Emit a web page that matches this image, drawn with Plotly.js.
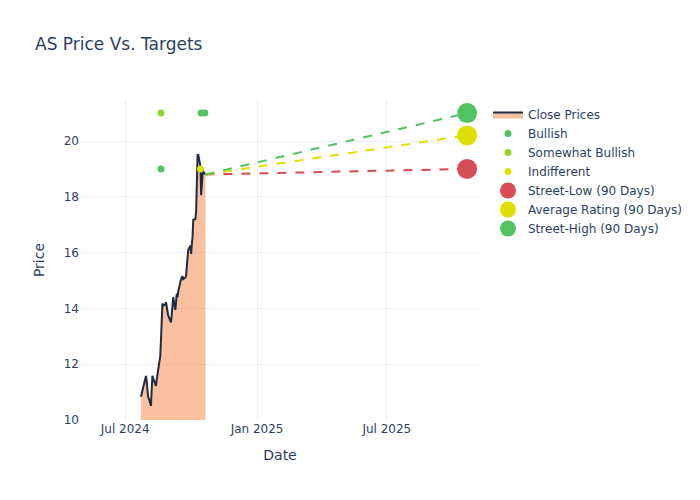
<!DOCTYPE html>
<html>
<head>
<meta charset="utf-8">
<script src="https://cdn.plot.ly/plotly-3.0.1.min.js"></script>
<style>body{margin:0;padding:0;background:#fff;}#chart{width:700px;height:500px;}</style>
</head>
<body>
<div id="chart"></div>
<script>
const closeDates = [
  "2024-07-23","2024-07-24","2024-07-25","2024-07-26",
  "2024-07-29","2024-07-30","2024-07-31","2024-08-01","2024-08-02",
  "2024-08-05","2024-08-06","2024-08-07","2024-08-08","2024-08-09",
  "2024-08-12","2024-08-13","2024-08-14","2024-08-15","2024-08-16",
  "2024-08-19","2024-08-20","2024-08-21","2024-08-22","2024-08-23",
  "2024-08-26","2024-08-27","2024-08-28","2024-08-29","2024-08-30",
  "2024-09-03","2024-09-04","2024-09-05","2024-09-06",
  "2024-09-09","2024-09-10","2024-09-11","2024-09-12","2024-09-13",
  "2024-09-16","2024-09-17","2024-09-18","2024-09-19","2024-09-20",
  "2024-09-23","2024-09-24","2024-09-25","2024-09-26","2024-09-27",
  "2024-09-30","2024-10-01","2024-10-02","2024-10-03","2024-10-04",
  "2024-10-07","2024-10-08","2024-10-09","2024-10-10","2024-10-11",
  "2024-10-14","2024-10-15","2024-10-16","2024-10-17","2024-10-18",
  "2024-10-21"
];
const closePrices = [
  10.83, 10.95, 11.05, 11.20,
  11.45, 11.58, 11.40, 11.10, 10.85,
  10.60, 10.50, 11.10, 11.58, 11.50,
  11.30, 11.22, 11.45, 11.60, 11.80,
  12.30, 12.90, 13.60, 14.17, 14.10,
  14.15, 14.22, 14.05, 13.92, 13.75,
  13.50, 13.90, 14.17, 14.40,
  13.95, 14.45, 14.53, 14.40, 14.60,
  14.95, 15.10, 15.12, 15.15, 15.05,
  15.10, 15.18, 15.50, 16.00, 16.10,
  16.25, 15.95, 16.30, 16.56, 17.18,
  17.20, 17.50, 19.00, 19.50, 19.50,
  19.10, 18.06, 18.60, 18.84, 18.90,
  18.80
];

const bullishDates = ["2024-08-20", "2024-10-15", "2024-10-20"];
const bullishPrices = [19, 21, 21];
const somewhatBullishDates = ["2024-08-20"];
const somewhatBullishPrices = [21];
const indifferentDates = ["2024-10-14"];
const indifferentPrices = [19];

const lastDate = "2024-10-21";
const lastClose = 18.8;
const targetDate = "2025-10-21";
const streetLow = 19;
const averageRating = 20.2;
const streetHigh = 21;

const RED = "#d64c54", YELLOW = "#e0e000", GREEN = "#50c460";

const traces = [
  {x: closeDates, y: closePrices, type: "scatter", mode: "lines", name: "Close Prices",
   line: {color: "#1f2a44", width: 2}, fill: "tozeroy", fillcolor: "rgba(247,130,65,0.5)"},
  {x: bullishDates, y: bullishPrices, type: "scatter", mode: "markers", name: "Bullish",
   marker: {color: GREEN, size: 7}},
  {x: somewhatBullishDates, y: somewhatBullishPrices, type: "scatter", mode: "markers", name: "Somewhat Bullish",
   marker: {color: "#96d22a", size: 7}},
  {x: indifferentDates, y: indifferentPrices, type: "scatter", mode: "markers", name: "Indifferent",
   marker: {color: YELLOW, size: 7}},
  {x: [lastDate, targetDate], y: [lastClose, streetLow], type: "scatter", mode: "lines", showlegend: false,
   line: {color: RED, width: 2, dash: "dash"}, hoverinfo: "skip"},
  {x: [lastDate, targetDate], y: [lastClose, averageRating], type: "scatter", mode: "lines", showlegend: false,
   line: {color: YELLOW, width: 2, dash: "dash"}, hoverinfo: "skip"},
  {x: [lastDate, targetDate], y: [lastClose, streetHigh], type: "scatter", mode: "lines", showlegend: false,
   line: {color: GREEN, width: 2, dash: "dash"}, hoverinfo: "skip"},
  {x: [targetDate], y: [streetLow], type: "scatter", mode: "markers", name: "Street-Low (90 Days)",
   marker: {color: RED, size: 20}},
  {x: [targetDate], y: [averageRating], type: "scatter", mode: "markers", name: "Average Rating (90 Days)",
   marker: {color: YELLOW, size: 20}},
  {x: [targetDate], y: [streetHigh], type: "scatter", mode: "markers", name: "Street-High (90 Days)",
   marker: {color: GREEN, size: 20}}
];

const layout = {
  width: 700, height: 500,
  title: {text: "AS Price Vs. Targets", x: 0.05, font: {size: 17}},
  paper_bgcolor: "#fff", plot_bgcolor: "#fff",
  xaxis: {title: {text: "Date", standoff: 15}, automargin: true, type: "date", range: ["2024-04-29", "2025-11-08"],
          gridcolor: "#ebf0f8", zeroline: false, showline: false},
  yaxis: {title: {text: "Price", standoff: 15}, automargin: true, range: [10, 21.47], gridcolor: "#ebf0f8", zeroline: false,
          dtick: 2, tick0: 10},
  legend: {x: 1.02, y: 1, font: {size: 12}},
  margin: {l: 80, r: 220, t: 100, b: 80},
  font: {color: "#2a3f5f", family: "DejaVu Sans, sans-serif", size: 12},
  showlegend: true
};

Plotly.newPlot("chart", traces, layout, {displayModeBar: false});
</script>
</body>
</html>
